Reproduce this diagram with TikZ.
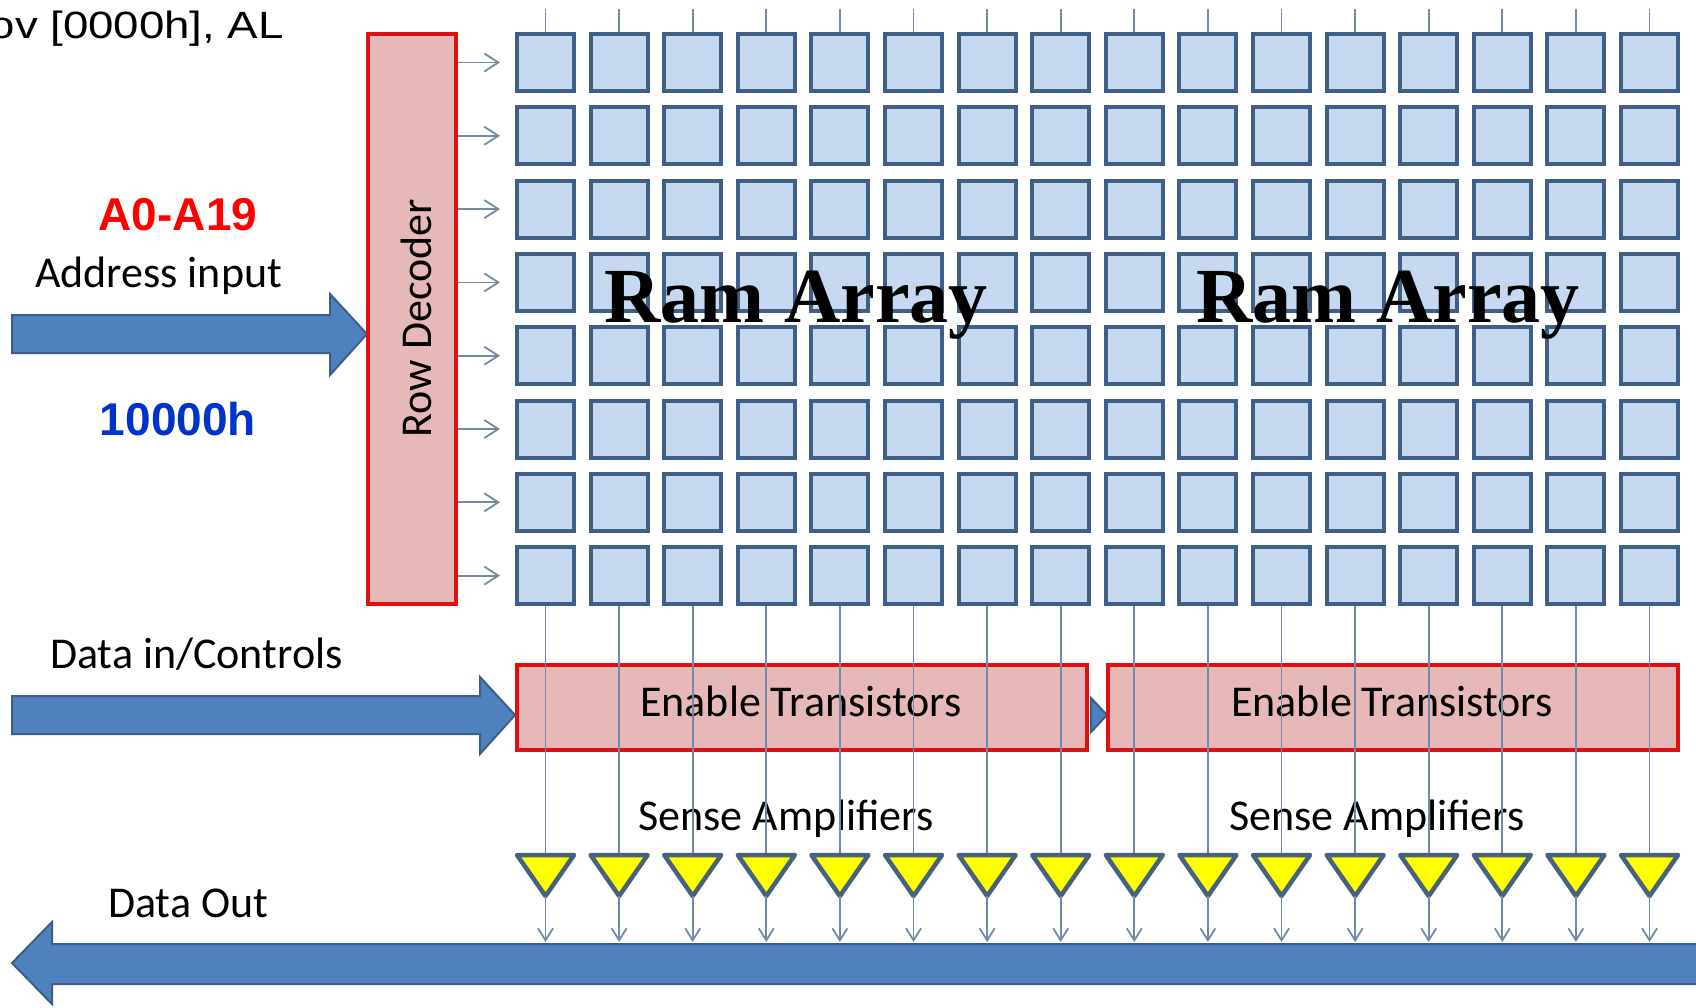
\documentclass[tikz,border=0pt]{standalone}
\usepackage{fontspec}
\setmainfont{Liberation Sans}
\newfontfamily\calibri{Carlito}
\newfontfamily\widesans[FakeStretch=1.2]{Liberation Sans}
\newfontfamily\timesbold{Liberation Serif Bold}
\usetikzlibrary{arrows.meta}
\definecolor{cellfill}{HTML}{C6D9F1}
\definecolor{celledge}{HTML}{3F5F86}
\definecolor{boxfill}{HTML}{E6B9B8}
\definecolor{boxedge}{HTML}{DD1111}
\definecolor{busfill}{HTML}{4F81BD}
\definecolor{busedge}{HTML}{3A5F8C}
\definecolor{wirecol}{HTML}{7389A8}
\definecolor{ampfill}{HTML}{FFFF00}
\definecolor{ampedge}{HTML}{46627C}
\definecolor{addrred}{HTML}{FF0000}
\definecolor{addrblue}{HTML}{0033CC}

\begin{document}
\begin{tikzpicture}[
  x=1pt, y=-1pt,
  cell/.style={draw=celledge, fill=cellfill, line width=4pt, minimum size=57pt, inner sep=0pt},
  redbox/.style={draw=boxedge, fill=boxfill, line width=4pt, inner sep=0pt},
  bus/.style={draw=busedge, fill=busfill, line width=2pt},
  wire/.style={draw=wirecol, line width=1.8pt},
  rowhead/.style={-{Straight Barb[length=14pt, width=18pt, line width=1.8pt]}},
  colhead/.style={-{Straight Barb[length=12pt, width=15pt, line width=1.8pt]}},
  amp/.style={draw=ampedge, fill=ampfill, line width=4.5pt, line join=round},
  calfont/.style={font=\calibri\fontsize{44}{44}\selectfont, inner sep=0pt},
  boldtxt/.style={font=\bfseries\fontsize{46}{46}\selectfont, inner sep=0pt}
]
\fill[white] (0,0) rectangle (1696,1007);
\useasboundingbox (0,0) rectangle (1696,1007);

\node[anchor=base east, inner sep=0pt, font=\widesans\fontsize{38}{38}\selectfont] (instr) at (284,38) {ov [0000h], AL};
\node[boldtxt, text=addrred, anchor=base] (addr) at (178,230) {A0-A19};
\node[calfont, anchor=base west] (addrlbl) at (35,287) {Address input};
\node[boldtxt, text=addrblue, anchor=base] (addrval) at (178,435) {10000h};
\node[calfont, anchor=base west] (datainlbl) at (50,668) {Data in/Controls};
\node[calfont, anchor=base west] (dataoutlbl) at (108,917) {Data Out};

\foreach \i in {1,...,16} {
  \pgfmathsetmacro{\cx}{545.5+73.6*(\i-1)}
  \coordinate (top\i) at (\cx,9);
  \coordinate (ampin\i) at (\cx,855);
  \coordinate (ampout\i) at (\cx,896);
  \coordinate (busin\i) at (\cx,942);
  \foreach \j in {1,...,8} {
    \pgfmathsetmacro{\cy}{62.5+73.3*(\j-1)}
    \node[cell] (c\i-\j) at (\cx,\cy) {};
  }
  \draw[wire] (top\i) -- (c\i-1.north);
}

\draw[bus] (12,315) -- (330,315) -- (330,294) -- (367,334) -- (330,375) -- (330,353) -- (12,353) -- cycle;
\foreach \j in {1,...,8}
  \draw[wire, rowhead] (456,0 |- c1-\j) -- ([xshift=-15pt]c1-\j.west);
\node[redbox, minimum width=88pt, minimum height=570pt] (rd) at (412,319) {};
\node[calfont, rotate=90] (rdlbl) at (416,318) {Row Decoder};

\node[font=\timesbold\fontsize{78}{78}\selectfont, inner sep=0pt, anchor=base] (ram1) at (796,322) {Ram Array};
\node[font=\timesbold\fontsize{78}{78}\selectfont, inner sep=0pt, anchor=base] (ram2) at (1388,322) {Ram Array};

\draw[bus] (12,696) -- (480,696) -- (480,677) -- (515,715) -- (480,754) -- (480,734) -- (12,734) -- cycle;
\draw[bus] (1091,698) -- (1107,715) -- (1091,732) -- cycle;
\node[redbox, minimum width=570pt, minimum height=85pt] (et1) at (802,707.5) {};
\node[redbox, minimum width=570pt, minimum height=85pt] (et2) at (1393,707.5) {};
\node[calfont, anchor=base] (et1lbl) at (801,716) {Enable Transistors};
\node[calfont, anchor=base] (et2lbl) at (1392,716) {Enable Transistors};
\node[calfont, anchor=base] (sa1lbl) at (786,830) {Sense Amplifiers};
\node[calfont, anchor=base] (sa2lbl) at (1377,830) {Sense Amplifiers};

\draw[bus] (1700,944) -- (52,944) -- (52,922) -- (12,963) -- (52,1004) -- (52,984) -- (1700,984) -- cycle;

\foreach \i in {1,...,16} {
  \draw[wire] (c\i-8.south) -- (ampin\i);
  \draw[amp] ([xshift=-28.5pt]ampin\i) -- ([xshift=28.5pt]ampin\i) -- (ampout\i) -- cycle;
  \draw[wire, colhead] (ampout\i) -- (busin\i);
}
\end{tikzpicture}
\end{document}
